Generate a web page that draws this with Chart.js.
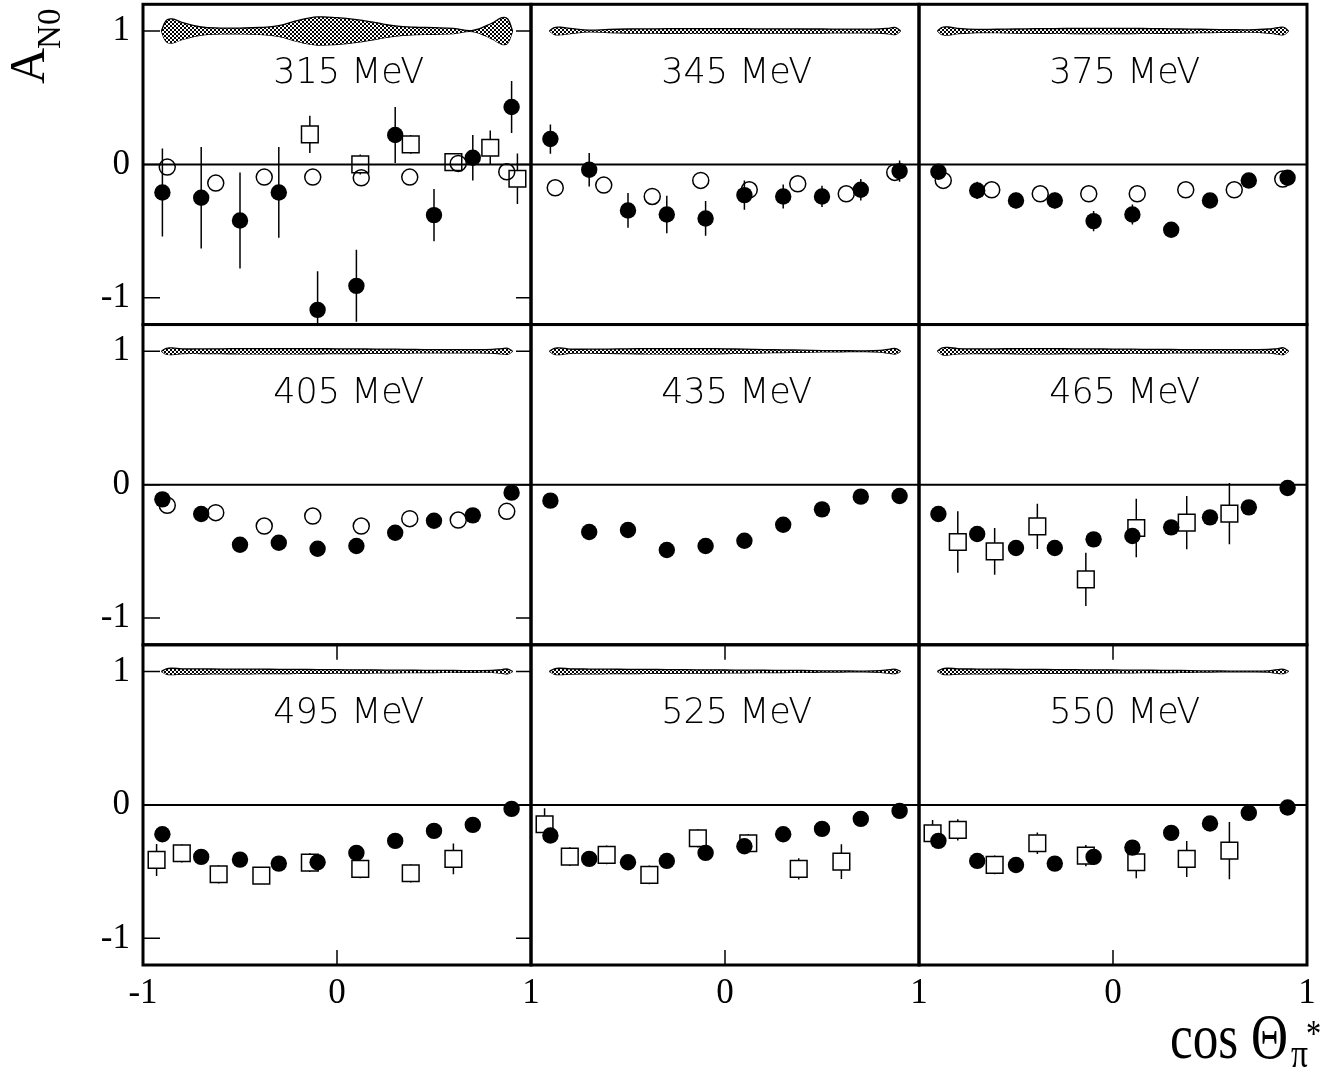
<!DOCTYPE html>
<html>
<head>
<meta charset="utf-8">
<script src="https://cdn.jsdelivr.net/npm/chart.js@4.4.0/dist/chart.umd.min.js"></script>
<style>
  html, body { margin: 0; padding: 0; background: #fff; }
  #wrap { position: relative; width: 1342px; height: 1071px; overflow: hidden; }
  #c { position: absolute; left: 0; top: -9px; }
</style>
</head>
<body>
<div id="wrap"><canvas id="c" width="1342" height="1080"></canvas></div>
<script>
// panel labels, row by row
const energies = ['315 MeV', '345 MeV', '375 MeV', '405 MeV', '435 MeV', '465 MeV', '495 MeV', '525 MeV', '550 MeV'];

// bin centres (cos theta) of the three data sets
const xFilled = [-0.9, -0.7, -0.5, -0.3, -0.1, 0.1, 0.3, 0.5, 0.7, 0.9];
const xOpen = [-0.875, -0.625, -0.375, -0.125, 0.125, 0.375, 0.625, 0.875];
const xSquare = [-0.93, -0.8, -0.61, -0.39, -0.14, 0.12, 0.38, 0.6, 0.79, 0.93];

const yTicks = [-1, 0, 1];
const xTicksFirst = [-1, 0, 1];
const xTicksOther = [0, 1];

// filled circles
const filledY = [
  [-0.21, -0.25, -0.42, -0.21, -1.09, -0.91, 0.22, -0.38, 0.05, 0.43],
  [0.19, -0.04, -0.345, -0.375, -0.405, -0.23, -0.24, -0.24, -0.19, -0.05],
  [-0.055, -0.195, -0.27, -0.27, -0.425, -0.375, -0.49, -0.27, -0.12, -0.10],
  [-0.11, -0.22, -0.45, -0.435, -0.48, -0.46, -0.36, -0.27, -0.23, -0.06],
  [-0.12, -0.355, -0.34, -0.49, -0.46, -0.42, -0.30, -0.185, -0.09, -0.085],
  [-0.22, -0.37, -0.475, -0.475, -0.41, -0.385, -0.32, -0.245, -0.17, -0.025],
  [-0.22, -0.39, -0.41, -0.44, -0.43, -0.36, -0.27, -0.195, -0.15, -0.03],
  [-0.23, -0.405, -0.43, -0.42, -0.36, -0.31, -0.22, -0.18, -0.105, -0.045],
  [-0.27, -0.42, -0.45, -0.44, -0.39, -0.32, -0.21, -0.14, -0.06, -0.02]
];
const filledErr = [
  [0.33, 0.38, 0.36, 0.34, 0.29, 0.27, 0.21, 0.195, 0.17, 0.195],
  [0.11, 0.125, 0.13, 0.14, 0.13, 0.11, 0.09, 0.08, 0.08, 0.08],
  [0.03, 0.065, 0.06, 0.06, 0.075, 0.075, 0.03, 0.03, 0.03, 0.03],
  [0.03, 0.03, 0.03, 0.03, 0.03, 0.03, 0.03, 0.03, 0.03, 0.03],
  [0.03, 0.03, 0.03, 0.03, 0.03, 0.03, 0.03, 0.03, 0.03, 0.03],
  [0.03, 0.03, 0.03, 0.03, 0.03, 0.03, 0.03, 0.03, 0.03, 0.03],
  [0.03, 0.03, 0.03, 0.03, 0.03, 0.03, 0.03, 0.03, 0.03, 0.03],
  [0.03, 0.03, 0.03, 0.03, 0.03, 0.03, 0.03, 0.03, 0.03, 0.03],
  [0.03, 0.03, 0.03, 0.03, 0.03, 0.03, 0.03, 0.03, 0.03, 0.03]
];

// open circles
const openY = [
  [-0.02, -0.14, -0.095, -0.095, -0.10, -0.095, 0.0075, -0.055],
  [-0.175, -0.155, -0.24, -0.12, -0.19, -0.145, -0.22, -0.06],
  [-0.12, -0.19, -0.22, -0.22, -0.22, -0.19, -0.19, -0.11],
  [-0.155, -0.21, -0.31, -0.235, -0.31, -0.255, -0.265, -0.20],
  [], [], [], [], []
];

// open squares
const squareY = [
  [null, null, null, null, 0.225, 0.0, 0.15, 0.0175, 0.125, -0.1075],
  [], [], [], [],
  [null, -0.43, -0.50, -0.3125, -0.71, -0.325, -0.285, -0.2175, null, null],
  [-0.4125, -0.3625, -0.52, -0.53, -0.4325, -0.48, -0.5125, -0.405, null, null],
  [-0.145, -0.3875, -0.375, -0.525, -0.25, -0.2875, -0.48, -0.425, null, null],
  [-0.2125, -0.1875, -0.45, -0.2875, -0.38, -0.43, -0.405, -0.3425, null, null]
];
const squareErr = [
  [null, null, null, null, 0.14, 0.075, 0.07, 0.03, 0.13, 0.19],
  [], [], [], [],
  [null, 0.23, 0.175, 0.17, 0.20, 0.22, 0.20, 0.23, null, null],
  [0.12, 0.07, 0.07, 0.05, 0.07, 0.07, 0.07, 0.115, null, null],
  [0.12, 0.07, 0.07, 0.07, 0.07, 0.07, 0.08, 0.13, null, null],
  [0.10, 0.08, 0.07, 0.08, 0.08, 0.12, 0.135, 0.215, null, null]
];

// systematic error band drawn around A = 1 (half widths)
const bandX = [-0.905, -0.88, -0.85, -0.8, -0.7, -0.6, -0.5, -0.4, -0.3, -0.2, -0.1, 0, 0.1, 0.2, 0.3, 0.4, 0.5, 0.6, 0.7, 0.8, 0.85, 0.88, 0.905];
const bandHalf = [
  [0, 0.08, 0.09, 0.065, 0.03, 0.022, 0.022, 0.026, 0.04, 0.08, 0.105, 0.1, 0.085, 0.062, 0.038, 0.028, 0.025, 0.02, 0.004, 0.06, 0.1, 0.09, 0],
  [0, 0.025, 0.028, 0.02, 0.006, 0.012, 0.015, 0.016, 0.017, 0.018, 0.018, 0.018, 0.017, 0.016, 0.016, 0.015, 0.015, 0.014, 0.014, 0.016, 0.022, 0.025, 0],
  [0, 0.028, 0.03, 0.02, 0.012, 0.013, 0.015, 0.017, 0.018, 0.019, 0.02, 0.02, 0.019, 0.018, 0.016, 0.014, 0.012, 0.01, 0.009, 0.015, 0.025, 0.028, 0],
  [0, 0.022, 0.025, 0.018, 0.017, 0.018, 0.02, 0.02, 0.02, 0.02, 0.019, 0.018, 0.017, 0.016, 0.015, 0.013, 0.012, 0.012, 0.012, 0.014, 0.02, 0.022, 0],
  [0, 0.022, 0.025, 0.016, 0.015, 0.016, 0.018, 0.02, 0.02, 0.02, 0.02, 0.018, 0.015, 0.012, 0.01, 0.008, 0.005, 0.004, 0.003, 0.006, 0.016, 0.02, 0],
  [0, 0.025, 0.028, 0.02, 0.018, 0.018, 0.019, 0.02, 0.019, 0.018, 0.017, 0.016, 0.015, 0.014, 0.013, 0.012, 0.012, 0.012, 0.012, 0.013, 0.02, 0.025, 0],
  [0, 0.02, 0.024, 0.02, 0.019, 0.018, 0.018, 0.017, 0.016, 0.015, 0.014, 0.013, 0.012, 0.011, 0.01, 0.009, 0.008, 0.007, 0.006, 0.007, 0.014, 0.018, 0],
  [0, 0.02, 0.024, 0.02, 0.018, 0.017, 0.016, 0.015, 0.014, 0.013, 0.012, 0.011, 0.01, 0.009, 0.008, 0.007, 0.005, 0.004, 0.003, 0.006, 0.014, 0.016, 0],
  [0, 0.02, 0.024, 0.02, 0.018, 0.017, 0.016, 0.015, 0.014, 0.013, 0.012, 0.011, 0.01, 0.009, 0.008, 0.006, 0.004, 0.003, 0.003, 0.005, 0.014, 0.016, 0]
];

const serif = "'Liberation Serif', 'Times New Roman', serif";
const OFF = 9; // canvas sits 9px above the page top
const canvas = document.getElementById('c');

// fine checkerboard used for the bands
const tile = document.createElement('canvas');
tile.width = tile.height = 4;
const tg = tile.getContext('2d');
tg.fillStyle = '#fff'; tg.fillRect(0, 0, 4, 4);
tg.fillStyle = '#000'; tg.fillRect(0, 0, 2, 2); tg.fillRect(2, 2, 2, 2);
const checker = canvas.getContext('2d').createPattern(tile, 'repeat');

function pairs(xs, ys) {
  const out = [];
  ys.forEach((y, i) => { if (y !== null && y !== undefined) out.push({ x: xs[i], y }); });
  return out;
}
function errs(ys, es) {
  const out = [];
  ys.forEach((y, i) => { if (y !== null && y !== undefined) out.push(es ? es[i] : 0); });
  return out;
}

const datasets = [];
energies.forEach((label, p) => {
  const xa = 'x' + (p % 3), ya = 'y' + Math.floor(p / 3);
  datasets.push({
    type: 'line', data: bandX.map((x, i) => ({ x, y: 1 + bandHalf[p][i] })),
    xAxisID: xa, yAxisID: ya, fill: '+1', backgroundColor: checker,
    borderColor: '#000', borderWidth: 1.3, pointRadius: 0, tension: 0.4, order: 4
  });
  datasets.push({
    type: 'line', data: bandX.map((x, i) => ({ x, y: 1 - bandHalf[p][i] })),
    xAxisID: xa, yAxisID: ya, fill: false,
    borderColor: '#000', borderWidth: 1.3, pointRadius: 0, tension: 0.4, order: 4
  });
  if (squareY[p].length) {
    datasets.push({
      data: pairs(xSquare, squareY[p]), errors: errs(squareY[p], squareErr[p]), gap: 8.5,
      xAxisID: xa, yAxisID: ya, pointStyle: 'rect', pointRadius: 11.8,
      backgroundColor: 'rgba(0,0,0,0)', borderColor: '#000', borderWidth: 1.5, order: 3
    });
  }
  if (openY[p].length) {
    datasets.push({
      data: pairs(xOpen, openY[p]),
      xAxisID: xa, yAxisID: ya, pointStyle: 'circle', pointRadius: 8,
      backgroundColor: 'rgba(0,0,0,0)', borderColor: '#000', borderWidth: 1.5, order: 2
    });
  }
  datasets.push({
    data: pairs(xFilled, filledY[p]), errors: errs(filledY[p], filledErr[p]), gap: 7,
    xAxisID: xa, yAxisID: ya, pointStyle: 'circle', pointRadius: 8.2,
    backgroundColor: '#000', borderColor: '#000', borderWidth: 0, order: 1
  });
});

const scales = {};
// defined bottom row first: the last left-stacked axis ends up on top
['y2', 'y1', 'y0'].forEach(id => {
  scales[id] = {
    type: 'linear', position: 'left', stack: 'rows', stackWeight: 1,
    min: -1.2, max: 1.2,
    afterBuildTicks: s => { s.ticks = yTicks.map(v => ({ value: v })); },
    ticks: { color: '#000', font: { family: serif, size: 35 }, padding: 5 },
    grid: { display: false }, border: { display: false },
    afterFit: s => { s.width = 143; s.paddingTop = 0; s.paddingBottom = 0; }
  };
});
['x0', 'x1', 'x2'].forEach((id, c) => {
  scales[id] = {
    type: 'linear', position: 'bottom', stack: 'cols', stackWeight: 1,
    min: -1, max: 1,
    afterBuildTicks: s => { s.ticks = (c === 0 ? xTicksFirst : xTicksOther).map(v => ({ value: v })); },
    ticks: { color: '#000', font: { family: serif, size: 35 }, padding: 0, maxRotation: 0 },
    grid: { display: false }, border: { display: false },
    afterFit: s => { s.height = 106; s.paddingLeft = 0; s.paddingRight = 0; }
  };
});

function panelBox(chart, p) {
  const xs = chart.scales['x' + (p % 3)], ys = chart.scales['y' + Math.floor(p / 3)];
  return { xs, ys, left: xs.left, right: xs.right, top: ys.top, bottom: ys.bottom };
}

const zeroLines = {
  id: 'zeroLines',
  beforeDatasetsDraw(chart) {
    const ctx = chart.ctx;
    ctx.save();
    ctx.strokeStyle = '#000';
    ctx.lineWidth = 2;
    energies.forEach((e, p) => {
      const b = panelBox(chart, p);
      const y0 = b.ys.getPixelForValue(0);
      ctx.beginPath(); ctx.moveTo(b.left, y0); ctx.lineTo(b.right, y0); ctx.stroke();
    });
    ctx.restore();
  }
};

const errorBars = {
  id: 'errorBars',
  afterDatasetsDraw(chart) {
    const ctx = chart.ctx;
    chart.data.datasets.forEach(ds => {
      if (!ds.errors) return;
      const xs = chart.scales[ds.xAxisID], ys = chart.scales[ds.yAxisID];
      ctx.save();
      ctx.beginPath(); ctx.rect(xs.left, ys.top, xs.width, ys.height); ctx.clip();
      ctx.strokeStyle = '#000';
      ctx.lineWidth = 1.5;
      ds.data.forEach((pt, j) => {
        const e = ds.errors[j];
        if (!e) return;
        const px = xs.getPixelForValue(pt.x);
        const py = ys.getPixelForValue(pt.y);
        const top = ys.getPixelForValue(pt.y + e);
        const bot = ys.getPixelForValue(pt.y - e);
        ctx.beginPath();
        if (top < py - ds.gap) { ctx.moveTo(px, py - ds.gap); ctx.lineTo(px, top); }
        if (bot > py + ds.gap) { ctx.moveTo(px, py + ds.gap); ctx.lineTo(px, bot); }
        ctx.stroke();
      });
      ctx.restore();
    });
  }
};

const frame = {
  id: 'frame',
  afterDatasetsDraw(chart) {
    const ctx = chart.ctx;
    ctx.save();
    ctx.strokeStyle = '#000';
    energies.forEach((label, p) => {
      const b = panelBox(chart, p);
      const col = p % 3, row = Math.floor(p / 3);
      ctx.lineWidth = 1.5;
      ctx.beginPath();
      if (col === 0) {
        yTicks.forEach(v => {
          const y = b.ys.getPixelForValue(v);
          ctx.moveTo(b.left, y); ctx.lineTo(b.left + 17, y);
          ctx.moveTo(b.right - 15, y); ctx.lineTo(b.right, y);
        });
      }
      if (row === 2) {
        const x = b.xs.getPixelForValue(0);
        ctx.moveTo(x, b.bottom); ctx.lineTo(x, b.bottom - 15);
        ctx.moveTo(x, b.top); ctx.lineTo(x, b.top + 15);
      }
      ctx.stroke();
      ctx.lineWidth = 3;
      ctx.strokeRect(b.left, b.top, b.right - b.left, b.bottom - b.top);

      ctx.fillStyle = '#000';
      ctx.font = "300 35px 'DejaVu Sans', sans-serif";
      ctx.textAlign = 'center';
      ctx.textBaseline = 'middle';
      ctx.fillText(label, b.xs.getPixelForValue(0.06), b.ys.getPixelForValue(0.68));
    });
    ctx.restore();
  },
  afterDraw(chart) {
    const ctx = chart.ctx;
    ctx.save();
    ctx.translate(0, OFF);
    ctx.fillStyle = '#000';
    ctx.textAlign = 'left';
    ctx.textBaseline = 'alphabetic';
    // y title: A with subscript N0, rotated
    ctx.save();
    ctx.translate(44, 84);
    ctx.rotate(-Math.PI / 2);
    ctx.font = '50px ' + serif;
    ctx.fillText('A', 0, 0);
    const w = ctx.measureText('A').width;
    ctx.font = '33px ' + serif;
    ctx.fillText('N0', w - 1, 16);
    ctx.restore();
    // x title: cos Theta_pi^*
    ctx.save();
    ctx.translate(1170, 1058);
    ctx.font = '64px ' + serif;
    const sx = 118 / ctx.measureText('cos \u0398').width;
    ctx.scale(sx, 1);
    ctx.fillText('cos \u0398', 0, 0);
    ctx.font = '42px ' + serif;
    ctx.fillText('\u03c0', (1291 - 1170) / sx, 9);
    ctx.font = '38px ' + serif;
    ctx.fillText('*', (1306 - 1170) / sx, -12);
    ctx.restore();
    ctx.restore();
  }
};

new Chart(canvas, {
  type: 'scatter',
  data: { datasets },
  options: {
    responsive: false,
    animation: false,
    events: [],
    layout: { padding: { left: 0, right: 35, top: 3, bottom: 0 } },
    scales,
    plugins: { legend: { display: false }, tooltip: { enabled: false } }
  },
  plugins: [zeroLines, errorBars, frame]
});
</script>
</body>
</html>
